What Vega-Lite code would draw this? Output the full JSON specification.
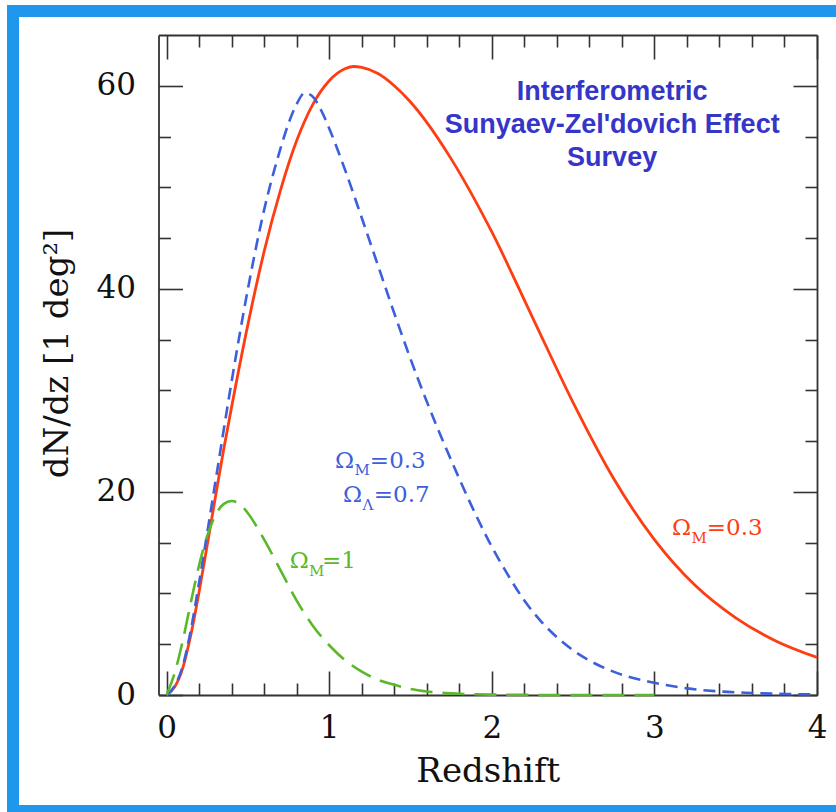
{
  "$schema": "https://vega.github.io/schema/vega-lite/v6.json",
  "width": 823,
  "height": 800,
  "autosize": {"type": "none"},
  "padding": {"left": 13, "top": 11, "right": 0, "bottom": 1},
  "background": "white",
  "config": {
    "view": {"stroke": "#1f97ec", "strokeWidth": 12, "strokeDash": [823, 800, 1623], "fill": "white"},
    "axis": {
      "grid": false,
      "domainColor": "#333333",
      "domainWidth": 1.8,
      "tickColor": "#333333",
      "tickWidth": 1.6,
      "labelFont": "DejaVu Serif",
      "labelFontSize": 31,
      "labelColor": "#111111",
      "labelFlush": false,
      "labelOverlap": false,
      "titleFont": "DejaVu Serif",
      "titleFontSize": 34,
      "titleFontWeight": "normal",
      "titleColor": "#111111"
    }
  },
  "datasets": {
    "curves": [
      {"series": "OmegaM_0.3", "z": 0, "dndz": 0},
      {"series": "OmegaM_0.3", "z": 0.05, "dndz": 0.8},
      {"series": "OmegaM_0.3", "z": 0.1, "dndz": 2.7},
      {"series": "OmegaM_0.3", "z": 0.15, "dndz": 6.0},
      {"series": "OmegaM_0.3", "z": 0.2, "dndz": 10.2},
      {"series": "OmegaM_0.3", "z": 0.25, "dndz": 14.8},
      {"series": "OmegaM_0.3", "z": 0.3, "dndz": 19.5},
      {"series": "OmegaM_0.3", "z": 0.35, "dndz": 24.1},
      {"series": "OmegaM_0.3", "z": 0.4, "dndz": 28.4},
      {"series": "OmegaM_0.3", "z": 0.5, "dndz": 36.5},
      {"series": "OmegaM_0.3", "z": 0.6, "dndz": 43.7},
      {"series": "OmegaM_0.3", "z": 0.7, "dndz": 49.7},
      {"series": "OmegaM_0.3", "z": 0.8, "dndz": 54.6},
      {"series": "OmegaM_0.3", "z": 0.9, "dndz": 58.2},
      {"series": "OmegaM_0.3", "z": 1.0, "dndz": 60.5},
      {"series": "OmegaM_0.3", "z": 1.1, "dndz": 61.7},
      {"series": "OmegaM_0.3", "z": 1.15, "dndz": 61.9},
      {"series": "OmegaM_0.3", "z": 1.2, "dndz": 61.8},
      {"series": "OmegaM_0.3", "z": 1.3, "dndz": 61.2},
      {"series": "OmegaM_0.3", "z": 1.4, "dndz": 60.0},
      {"series": "OmegaM_0.3", "z": 1.5, "dndz": 58.4},
      {"series": "OmegaM_0.3", "z": 1.6, "dndz": 56.4},
      {"series": "OmegaM_0.3", "z": 1.75, "dndz": 52.8},
      {"series": "OmegaM_0.3", "z": 2.0, "dndz": 45.6},
      {"series": "OmegaM_0.3", "z": 2.25, "dndz": 37.2},
      {"series": "OmegaM_0.3", "z": 2.5, "dndz": 28.8},
      {"series": "OmegaM_0.3", "z": 2.75, "dndz": 21.3},
      {"series": "OmegaM_0.3", "z": 3.0, "dndz": 15.3},
      {"series": "OmegaM_0.3", "z": 3.25, "dndz": 10.8},
      {"series": "OmegaM_0.3", "z": 3.5, "dndz": 7.6},
      {"series": "OmegaM_0.3", "z": 3.75, "dndz": 5.3},
      {"series": "OmegaM_0.3", "z": 4.0, "dndz": 3.7},

      {"series": "OmegaM_0.3_OmegaL_0.7", "z": 0, "dndz": 0},
      {"series": "OmegaM_0.3_OmegaL_0.7", "z": 0.05, "dndz": 0.9},
      {"series": "OmegaM_0.3_OmegaL_0.7", "z": 0.1, "dndz": 2.9},
      {"series": "OmegaM_0.3_OmegaL_0.7", "z": 0.15, "dndz": 6.5},
      {"series": "OmegaM_0.3_OmegaL_0.7", "z": 0.2, "dndz": 11.1},
      {"series": "OmegaM_0.3_OmegaL_0.7", "z": 0.25, "dndz": 16.0},
      {"series": "OmegaM_0.3_OmegaL_0.7", "z": 0.3, "dndz": 21.0},
      {"series": "OmegaM_0.3_OmegaL_0.7", "z": 0.35, "dndz": 26.0},
      {"series": "OmegaM_0.3_OmegaL_0.7", "z": 0.4, "dndz": 30.9},
      {"series": "OmegaM_0.3_OmegaL_0.7", "z": 0.5, "dndz": 40.0},
      {"series": "OmegaM_0.3_OmegaL_0.7", "z": 0.6, "dndz": 47.8},
      {"series": "OmegaM_0.3_OmegaL_0.7", "z": 0.7, "dndz": 53.8},
      {"series": "OmegaM_0.3_OmegaL_0.7", "z": 0.75, "dndz": 56.3},
      {"series": "OmegaM_0.3_OmegaL_0.7", "z": 0.8, "dndz": 58.2},
      {"series": "OmegaM_0.3_OmegaL_0.7", "z": 0.85, "dndz": 59.3},
      {"series": "OmegaM_0.3_OmegaL_0.7", "z": 0.9, "dndz": 58.9},
      {"series": "OmegaM_0.3_OmegaL_0.7", "z": 0.95, "dndz": 57.6},
      {"series": "OmegaM_0.3_OmegaL_0.7", "z": 1.0, "dndz": 55.8},
      {"series": "OmegaM_0.3_OmegaL_0.7", "z": 1.1, "dndz": 51.6},
      {"series": "OmegaM_0.3_OmegaL_0.7", "z": 1.2, "dndz": 47.0},
      {"series": "OmegaM_0.3_OmegaL_0.7", "z": 1.3, "dndz": 42.3},
      {"series": "OmegaM_0.3_OmegaL_0.7", "z": 1.4, "dndz": 37.6},
      {"series": "OmegaM_0.3_OmegaL_0.7", "z": 1.5, "dndz": 33.1},
      {"series": "OmegaM_0.3_OmegaL_0.7", "z": 1.6, "dndz": 28.9},
      {"series": "OmegaM_0.3_OmegaL_0.7", "z": 1.7, "dndz": 25.0},
      {"series": "OmegaM_0.3_OmegaL_0.7", "z": 1.8, "dndz": 21.3},
      {"series": "OmegaM_0.3_OmegaL_0.7", "z": 1.9, "dndz": 17.8},
      {"series": "OmegaM_0.3_OmegaL_0.7", "z": 2.0, "dndz": 14.6},
      {"series": "OmegaM_0.3_OmegaL_0.7", "z": 2.1, "dndz": 11.8},
      {"series": "OmegaM_0.3_OmegaL_0.7", "z": 2.2, "dndz": 9.3},
      {"series": "OmegaM_0.3_OmegaL_0.7", "z": 2.3, "dndz": 7.3},
      {"series": "OmegaM_0.3_OmegaL_0.7", "z": 2.4, "dndz": 5.7},
      {"series": "OmegaM_0.3_OmegaL_0.7", "z": 2.5, "dndz": 4.4},
      {"series": "OmegaM_0.3_OmegaL_0.7", "z": 2.6, "dndz": 3.4},
      {"series": "OmegaM_0.3_OmegaL_0.7", "z": 2.8, "dndz": 2.0},
      {"series": "OmegaM_0.3_OmegaL_0.7", "z": 3.0, "dndz": 1.2},
      {"series": "OmegaM_0.3_OmegaL_0.7", "z": 3.2, "dndz": 0.65},
      {"series": "OmegaM_0.3_OmegaL_0.7", "z": 3.4, "dndz": 0.35},
      {"series": "OmegaM_0.3_OmegaL_0.7", "z": 3.6, "dndz": 0.2},
      {"series": "OmegaM_0.3_OmegaL_0.7", "z": 3.8, "dndz": 0.1},
      {"series": "OmegaM_0.3_OmegaL_0.7", "z": 4.0, "dndz": 0.05},

      {"series": "OmegaM_1", "z": 0, "dndz": 0},
      {"series": "OmegaM_1", "z": 0.05, "dndz": 2.2},
      {"series": "OmegaM_1", "z": 0.1, "dndz": 5.4},
      {"series": "OmegaM_1", "z": 0.15, "dndz": 9.2},
      {"series": "OmegaM_1", "z": 0.2, "dndz": 12.8},
      {"series": "OmegaM_1", "z": 0.25, "dndz": 15.7},
      {"series": "OmegaM_1", "z": 0.3, "dndz": 17.7},
      {"series": "OmegaM_1", "z": 0.35, "dndz": 18.8},
      {"series": "OmegaM_1", "z": 0.4, "dndz": 19.1},
      {"series": "OmegaM_1", "z": 0.45, "dndz": 18.8},
      {"series": "OmegaM_1", "z": 0.5, "dndz": 17.9},
      {"series": "OmegaM_1", "z": 0.6, "dndz": 15.3},
      {"series": "OmegaM_1", "z": 0.7, "dndz": 12.3},
      {"series": "OmegaM_1", "z": 0.8, "dndz": 9.3},
      {"series": "OmegaM_1", "z": 0.9, "dndz": 6.8},
      {"series": "OmegaM_1", "z": 1.0, "dndz": 4.9},
      {"series": "OmegaM_1", "z": 1.1, "dndz": 3.4},
      {"series": "OmegaM_1", "z": 1.2, "dndz": 2.3},
      {"series": "OmegaM_1", "z": 1.3, "dndz": 1.5},
      {"series": "OmegaM_1", "z": 1.4, "dndz": 1.0},
      {"series": "OmegaM_1", "z": 1.5, "dndz": 0.6},
      {"series": "OmegaM_1", "z": 1.6, "dndz": 0.35},
      {"series": "OmegaM_1", "z": 1.8, "dndz": 0.12},
      {"series": "OmegaM_1", "z": 2.0, "dndz": 0.04},
      {"series": "OmegaM_1", "z": 2.5, "dndz": 0.0},
      {"series": "OmegaM_1", "z": 3.0, "dndz": 0.0}
    ],
    "labels": [
      {"series": "OmegaM_0.3", "z": 3.108, "dndz": 15.76, "label": "Ω"},
      {"series": "OmegaM_0.3", "z": 3.322, "dndz": 15.76, "label": "=0.3"},
      {"series": "OmegaM_0.3_OmegaL_0.7", "z": 1.035, "dndz": 22.36, "label": "Ω"},
      {"series": "OmegaM_0.3_OmegaL_0.7", "z": 1.25, "dndz": 22.36, "label": "=0.3"},
      {"series": "OmegaM_0.3_OmegaL_0.7", "z": 1.084, "dndz": 19.01, "label": "Ω"},
      {"series": "OmegaM_0.3_OmegaL_0.7", "z": 1.274, "dndz": 19.01, "label": "=0.7"},
      {"series": "OmegaM_1", "z": 0.758, "dndz": 12.51, "label": "Ω"},
      {"series": "OmegaM_1", "z": 0.955, "dndz": 12.51, "label": "=1"}
    ],
    "subscripts": [
      {"series": "OmegaM_0.3", "z": 3.228, "dndz": 14.98, "label": "M"},
      {"series": "OmegaM_0.3_OmegaL_0.7", "z": 1.155, "dndz": 21.67, "label": "M"},
      {"series": "OmegaM_0.3_OmegaL_0.7", "z": 1.204, "dndz": 18.23, "label": "Λ"},
      {"series": "OmegaM_1", "z": 0.876, "dndz": 11.72, "label": "M"}
    ],
    "heading": [
      {"z": 2.74, "dndz": 58.6, "label": "Interferometric\nSunyaev-Zel'dovich Effect\nSurvey"}
    ]
  },
  "layer": [
    {
      "data": {"name": "curves"},
      "transform": [{"filter": "datum.series === 'OmegaM_0.3'"}],
      "mark": {"type": "line", "strokeWidth": 2.8, "interpolate": "monotone"},
      "encoding": {
        "x": {
          "field": "z", "type": "quantitative",
          "scale": {"domain": [-0.05, 4], "range": [145.5, 804], "nice": false, "zero": false},
          "axis": {"orient": "bottom", "offset": -116, "values": [0, 1, 2, 3, 4], "format": "d", "tickSize": -24, "labelPadding": 42, "title": "Redshift", "titlePadding": 11}
        },
        "y": {
          "field": "dndz", "type": "quantitative",
          "scale": {"domain": [0, 65], "range": [684, 24], "nice": false},
          "axis": {"orient": "left", "offset": -145.5, "values": [0, 20, 40, 60], "format": "d", "tickSize": -24, "labelPadding": 47, "title": "dN/dz [1 deg²]", "titlePadding": 22, "titleY": 342}
        },
        "color": {
          "field": "series", "type": "nominal",
          "scale": {"domain": ["OmegaM_0.3", "OmegaM_0.3_OmegaL_0.7", "OmegaM_1"], "range": ["#fe3d12", "#3d5fdc", "#5ab82a"]},
          "legend": null
        }
      }
    },
    {
      "data": {"name": "curves"},
      "transform": [{"filter": "datum.series === 'OmegaM_0.3_OmegaL_0.7'"}],
      "mark": {"type": "line", "strokeWidth": 2.6, "strokeDash": [12, 7], "interpolate": "monotone"},
      "encoding": {
        "x": {
          "field": "z", "type": "quantitative",
          "axis": {"orient": "bottom", "offset": -116, "values": [0.2, 0.4, 0.6, 0.8, 1.2, 1.4, 1.6, 1.8, 2.2, 2.4, 2.6, 2.8, 3.2, 3.4, 3.6, 3.8], "tickSize": -12, "labels": false, "domain": false, "title": null}
        },
        "y": {
          "field": "dndz", "type": "quantitative",
          "axis": {"orient": "left", "offset": -145.5, "values": [5, 10, 15, 25, 30, 35, 45, 50, 55], "tickSize": -12, "labels": false, "domain": false, "title": null}
        },
        "color": {"field": "series", "type": "nominal", "legend": null}
      }
    },
    {
      "data": {"name": "curves"},
      "transform": [{"filter": "datum.series === 'OmegaM_1'"}],
      "mark": {"type": "line", "strokeWidth": 2.6, "strokeDash": [22, 10], "interpolate": "monotone"},
      "encoding": {
        "x": {
          "field": "z", "type": "quantitative",
          "axis": {"orient": "top", "offset": -24, "values": [0, 1, 2, 3, 4], "tickSize": -24, "labels": false, "title": null}
        },
        "y": {
          "field": "dndz", "type": "quantitative",
          "axis": {"orient": "right", "offset": -19, "values": [0, 20, 40, 60], "tickSize": -24, "labels": false, "title": null}
        },
        "color": {"field": "series", "type": "nominal", "legend": null}
      }
    },
    {
      "data": {"name": "labels"},
      "mark": {"type": "text", "font": "DejaVu Serif", "fontSize": 23, "align": "left", "baseline": "alphabetic"},
      "encoding": {
        "x": {
          "field": "z", "type": "quantitative",
          "axis": {"orient": "top", "offset": -24, "values": [0.2, 0.4, 0.6, 0.8, 1.2, 1.4, 1.6, 1.8, 2.2, 2.4, 2.6, 2.8, 3.2, 3.4, 3.6, 3.8], "tickSize": -12, "labels": false, "domain": false, "title": null}
        },
        "y": {
          "field": "dndz", "type": "quantitative",
          "axis": {"orient": "right", "offset": -19, "values": [5, 10, 15, 25, 30, 35, 45, 50, 55], "tickSize": -12, "labels": false, "domain": false, "title": null}
        },
        "text": {"field": "label"},
        "color": {"field": "series", "type": "nominal", "legend": null}
      }
    },
    {
      "data": {"name": "subscripts"},
      "mark": {"type": "text", "font": "DejaVu Serif", "fontSize": 15, "align": "left", "baseline": "alphabetic"},
      "encoding": {
        "x": {"field": "z", "type": "quantitative", "axis": null},
        "y": {"field": "dndz", "type": "quantitative", "axis": null},
        "text": {"field": "label"},
        "color": {"field": "series", "type": "nominal", "legend": null}
      }
    },
    {
      "data": {"name": "heading"},
      "mark": {"type": "text", "font": "Liberation Sans", "fontWeight": "bold", "fontSize": 27, "align": "center", "baseline": "alphabetic", "lineBreak": "\n", "lineHeight": 33, "color": "#3535c8"},
      "encoding": {
        "x": {"field": "z", "type": "quantitative", "axis": null},
        "y": {"field": "dndz", "type": "quantitative", "axis": null},
        "text": {"field": "label"}
      }
    }
  ],
  "resolve": {"axis": {"x": "independent", "y": "independent"}}
}
